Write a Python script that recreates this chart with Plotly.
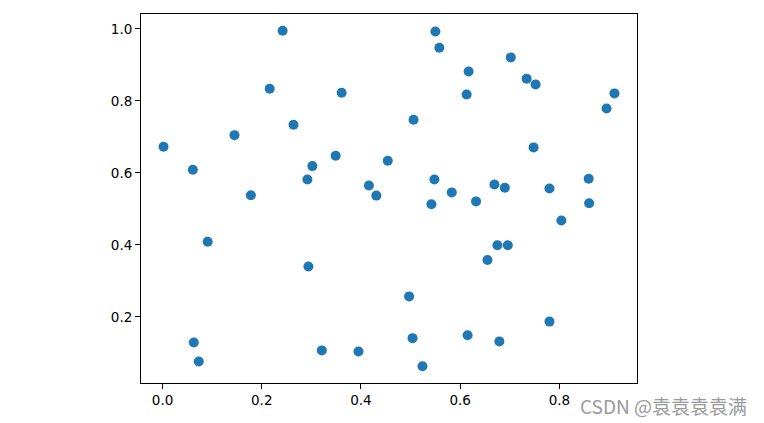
import plotly.graph_objects as go

x_vals = [0.002, 0.061, 0.145, 0.178, 0.216, 0.242, 0.264, 0.292, 0.302, 0.349,
          0.361, 0.416, 0.431, 0.550, 0.558, 0.702, 0.617, 0.734, 0.752, 0.613,
          0.911, 0.895, 0.506, 0.748, 0.454, 0.548, 0.583, 0.669, 0.690, 0.780,
          0.859, 0.091, 0.294, 0.063, 0.073, 0.321, 0.395, 0.542, 0.632, 0.860,
          0.804, 0.675, 0.696, 0.655, 0.497, 0.780, 0.615, 0.504, 0.679, 0.524]
y_vals = [0.673, 0.609, 0.705, 0.538, 0.834, 0.995, 0.734, 0.582, 0.619, 0.648,
          0.823, 0.565, 0.537, 0.993, 0.948, 0.921, 0.882, 0.862, 0.846, 0.818,
          0.821, 0.779, 0.748, 0.671, 0.634, 0.582, 0.546, 0.568, 0.559, 0.557,
          0.584, 0.409, 0.340, 0.129, 0.076, 0.107, 0.104, 0.513, 0.521, 0.516,
          0.468, 0.399, 0.399, 0.358, 0.257, 0.187, 0.149, 0.141, 0.132, 0.063]
x_ticks = [0.0, 0.2, 0.4, 0.6, 0.8]
y_ticks = [0.2, 0.4, 0.6, 0.8, 1.0]
watermark = "CSDN @袁袁袁袁满"

fig = go.Figure(go.Scatter(
    x=x_vals, y=y_vals, mode="markers",
    marker=dict(color="#1f77b4", size=10, line=dict(width=0)),
))

axis_common = dict(
    showgrid=False, zeroline=False, showline=True, linecolor="black", linewidth=1,
    mirror=True, ticks="outside", ticklen=5, tickcolor="black", tickwidth=1,
    tickformat=".1f", tickfont=dict(family="DejaVu Sans", size=13.5, color="black"),
)

xmin, xmax = min(x_vals), max(x_vals)
ymin, ymax = min(y_vals), max(y_vals)
dx, dy = xmax - xmin, ymax - ymin

fig.update_layout(
    width=748, height=413,
    margin=dict(l=133, r=119, t=6, b=38),
    paper_bgcolor="white", plot_bgcolor="white",
    showlegend=False,
    xaxis=dict(range=[xmin - 0.05 * dx, xmax + 0.05 * dx], tickvals=x_ticks, **axis_common),
    yaxis=dict(range=[ymin - 0.05 * dy, ymax + 0.05 * dy], tickvals=y_ticks, **axis_common),
    annotations=[dict(
        text=watermark, xref="paper", yref="paper", x=(749 - 141) / 496, y=-22 / 369,
        xanchor="right", yanchor="middle", showarrow=False,
        font=dict(family="Noto Sans CJK SC", size=19, color="#9a9a9a"),
    )],
)

fig.write_html("out.html")
